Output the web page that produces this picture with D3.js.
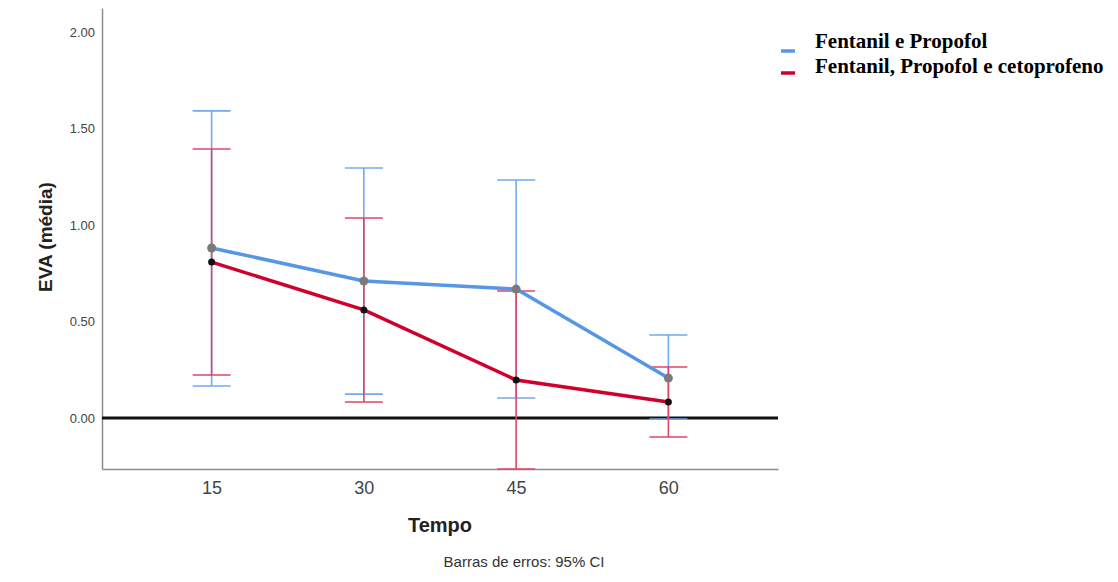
<!DOCTYPE html>
<html>
<head>
<meta charset="utf-8">
<script src="https://d3js.org/d3.v7.min.js"></script>
<style>
  body { margin: 0; background: #fff; }
</style>
</head>
<body>
<div id="chart"></div>
<script>
// Data
const tempos = ["15", "30", "45", "60"];
const seriesNames = ["Fentanil e Propofol", "Fentanil, Propofol e cetoprofeno"];
const meanFP = [0.881, 0.710, 0.668, 0.207];
const lowFP = [0.166, 0.124, 0.104, -0.005];
const highFP = [1.591, 1.295, 1.233, 0.430];
const meanFPC = [0.808, 0.560, 0.197, 0.083];
const lowFPC = [0.223, 0.083, -0.264, -0.098];
const highFPC = [1.394, 1.036, 0.658, 0.264];
const yTicks = [0, 0.5, 1, 1.5, 2];

const width = 1118, height = 582;
const margin = { top: 8, left: 102, right: 340, bottom: 113 };

const svg = d3.select("#chart").append("svg")
  .attr("width", width).attr("height", height)
  .style("font-family", "Arial, 'Liberation Sans', sans-serif");

const x = d3.scalePoint()
  .domain(tempos)
  .range([margin.left, width - margin.right])
  .padding(0.72);

const y = d3.scaleLinear()
  .domain([-0.264, 2.124])
  .range([height - margin.bottom, margin.top]);

// clip for the plot area (a bit of slack so caps on the edge stay visible)
svg.append("clipPath").attr("id", "plot")
  .append("rect")
  .attr("x", margin.left).attr("y", margin.top)
  .attr("width", width - margin.right - margin.left)
  .attr("height", height - margin.bottom - margin.top + 2);

// Y axis
const yAxis = d3.axisLeft(y).tickValues(yTicks).tickFormat(d3.format(".2f")).tickSize(0).tickPadding(7);
const gy = svg.append("g").attr("transform", `translate(${margin.left},0)`).call(yAxis);
gy.select(".domain").attr("stroke", "#8c8c8c").attr("stroke-width", 1.5);
gy.selectAll("text").attr("fill", "#444").style("font-size", "13px");

// X axis
const xAxis = d3.axisBottom(x).tickSize(0).tickPadding(12);
const gx = svg.append("g").attr("transform", `translate(0,${height - margin.bottom})`).call(xAxis);
gx.select(".domain").attr("stroke", "#8c8c8c").attr("stroke-width", 1.5);
gx.selectAll("text").attr("fill", "#444").style("font-size", "18px");

// zero reference line
svg.append("line")
  .attr("x1", margin.left).attr("x2", width - margin.right)
  .attr("y1", y(0)).attr("y2", y(0))
  .attr("stroke", "#111").attr("stroke-width", 3);

const series = [
  { name: seriesNames[0], mean: meanFP, low: lowFP, high: highFP,
    line: "#5596e6", err: "#73aaec", marker: "#7a7a7a", mr: 4.5 },
  { name: seriesNames[1], mean: meanFPC, low: lowFPC, high: highFPC,
    line: "#d0002c", err: "#e0456a", marker: "#111", mr: 3.5 }
];

const plot = svg.append("g").attr("clip-path", "url(#plot)");
const cap = 19;

// error bars
series.forEach(s => {
  const g = plot.append("g");
  tempos.forEach((t, i) => {
    const cx = x(t);
    g.append("line").attr("x1", cx).attr("x2", cx)
      .attr("y1", y(s.low[i])).attr("y2", y(s.high[i]))
      .attr("stroke", s.err).attr("stroke-width", 1.6);
    [s.low[i], s.high[i]].forEach(v => {
      g.append("line").attr("x1", cx - cap).attr("x2", cx + cap)
        .attr("y1", y(v)).attr("y2", y(v))
        .attr("stroke", s.err).attr("stroke-width", 1.6);
    });
  });
});

// mean lines
const line = d3.line().x((d, i) => x(tempos[i])).y(d => y(d));
series.forEach(s => {
  plot.append("path").datum(s.mean)
    .attr("d", line)
    .attr("fill", "none")
    .attr("stroke", s.line)
    .attr("stroke-width", 3.5);
});

// markers
series.forEach(s => {
  plot.selectAll(null).data(s.mean).enter().append("circle")
    .attr("cx", (d, i) => x(tempos[i]))
    .attr("cy", d => y(d))
    .attr("r", s.mr)
    .attr("fill", s.marker);
});

// axis titles
svg.append("text")
  .attr("transform", `translate(52,237) rotate(-90)`)
  .attr("text-anchor", "middle")
  .style("font-size", "19px").style("font-weight", "bold")
  .attr("fill", "#222")
  .text("EVA (média)");

svg.append("text")
  .attr("x", 440).attr("y", 532)
  .attr("text-anchor", "middle")
  .style("font-size", "20px").style("font-weight", "bold")
  .attr("fill", "#222")
  .text("Tempo");

svg.append("text")
  .attr("x", 524).attr("y", 567)
  .attr("text-anchor", "middle")
  .style("font-size", "15px")
  .attr("fill", "#333")
  .text("Barras de erros: 95% CI");

// legend
const legend = svg.append("g").attr("transform", "translate(781,48)");
series.forEach((s, i) => {
  legend.append("line")
    .attr("x1", 0).attr("x2", 14)
    .attr("y1", i * 22 + 3).attr("y2", i * 22 + 3)
    .attr("stroke", s.line).attr("stroke-width", 3.5);
  legend.append("text")
    .attr("x", 34).attr("y", i * 25)
    .style("font-family", "'Liberation Serif', 'Times New Roman', serif")
    .style("font-size", "21px").style("font-weight", "bold")
    .attr("fill", "#000")
    .text(s.name);
});
</script>
</body>
</html>
